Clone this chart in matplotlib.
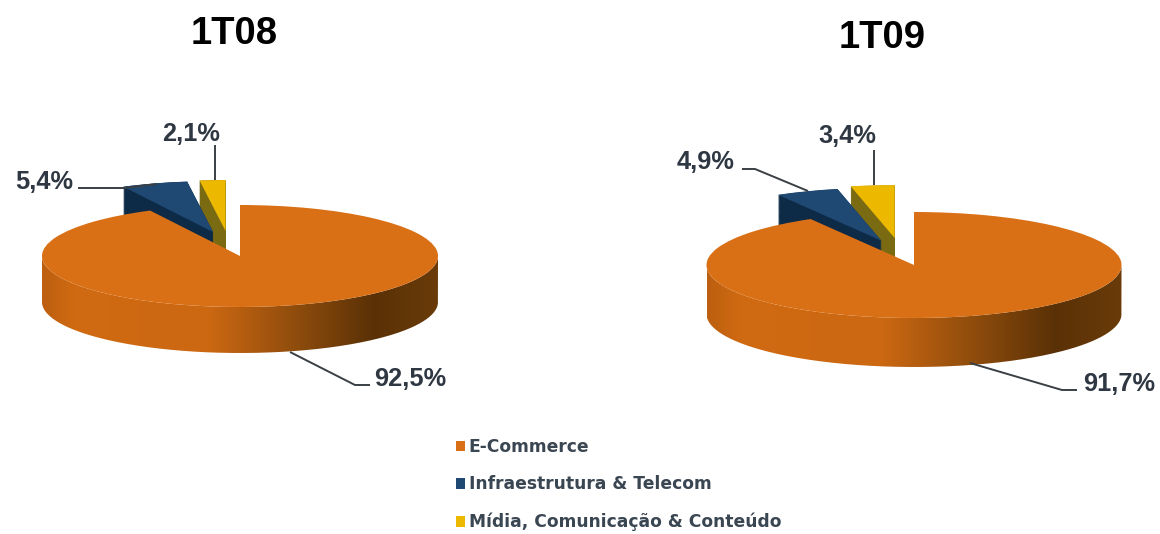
import numpy as np
import matplotlib
matplotlib.use("Agg")
import matplotlib.pyplot as plt
from matplotlib.colors import LinearSegmentedColormap
from matplotlib.patches import PathPatch
from matplotlib.path import Path

plt.rcParams['font.family'] = ['Liberation Sans', 'DejaVu Sans']

categories = ['E-Commerce', 'Infraestrutura & Telecom', 'Mídia, Comunicação & Conteúdo']
values_1t08 = [92.5, 5.4, 2.1]
values_1t09 = [91.7, 4.9, 3.4]

top_colors = ['#D97016', '#1F4873', '#EDB900']
side_colors = ['#A85510', '#0D2A47', '#7A6A12']
text_color = '#2E3742'

W, H = 1160, 534
fig = plt.figure(figsize=(W / 100, H / 100), dpi=100, facecolor='white')

side_cmap = LinearSegmentedColormap.from_list('side', [
    (0.0, '#BC5F10'), (0.08, '#D06A12'), (0.42, '#CC6812'),
    (0.66, '#8A4A0C'), (0.84, '#5A3106'), (1.0, '#6A3B09')])


def draw_pie(values, cx, cy, a, b, depth, explode, nudge):
    ax = fig.add_axes([0, 0, 1, 1])
    d = depth / b

    def pie_at(dy, colors):
        wedges, _ = ax.pie(values, colors=colors, startangle=90, counterclock=False,
                           explode=explode, center=(0, dy),
                           wedgeprops=dict(linewidth=0.4, edgecolor='none'))
        # the two small slices sit a bit further left than a radial explode
        for w, n in zip(wedges, nudge):
            w.set_center((w.center[0] + n / a, w.center[1]))
        return wedges

    # thickness of the pulled out slices: stack of dark copies
    for dy in np.arange(-d, 0, 0.01):
        wedges = pie_at(dy, side_colors)
        wedges[0].remove()
    wedges = pie_at(0, top_colors)
    wedges[0].set_zorder(4)
    wedges[1].set_zorder(2)
    wedges[2].set_zorder(2)

    # front wall of the big slice, shaded left to right
    t = np.linspace(np.pi, 2 * np.pi, 200)
    xs = np.r_[np.cos(t), np.cos(t[::-1])]
    ys = np.r_[np.sin(t), np.sin(t[::-1]) - d]
    wall = PathPatch(Path(np.c_[xs, ys]), transform=ax.transData, fc='none', ec='none')
    im = ax.imshow(np.linspace(0, 1, 256).reshape(1, -1), cmap=side_cmap, aspect='auto',
                   extent=(-1, 1, -3, 3), zorder=3)
    im.set_clip_path(wall)

    ax.set_aspect('auto')
    ax.set_xlim(-cx / a, (W - cx) / a)
    ax.set_ylim((cy - H) / b, cy / b)
    return wedges


wedges = draw_pie(values_1t08, 240, 256, 198, 51, 46, [0, 0.49, 0.49], [0, 2, -8])
draw_pie(values_1t09, 914, 265, 207.5, 53, 49, [0, 0.49, 0.51], [0, 4, -8])

# overlay in pixel coordinates for the text and leader lines
ov = fig.add_axes([0, 0, 1, 1])
ov.set_xlim(0, W)
ov.set_ylim(H, 0)
ov.axis('off')

ov.text(234, 34, '1T08', fontsize=27.5, fontweight='bold', color='black', ha='center', va='center')
ov.text(882, 38, '1T09', fontsize=27.5, fontweight='bold', color='black', ha='center', va='center')


def pct(v):
    return f'{v:.1f}%'.replace('.', ',')


labels = [
    (pct(values_1t08[2]), 191, 134),
    (pct(values_1t08[1]), 44, 182),
    (pct(values_1t08[0]), 410, 379),
    (pct(values_1t09[2]), 847, 136),
    (pct(values_1t09[1]), 706, 162),
    (pct(values_1t09[0]), 1119, 384),
]
for s, x, y in labels:
    ov.text(x, y, s, fontsize=18.3, fontweight='bold', color=text_color, ha='center', va='center')

leaders = [
    ([215, 215], [145, 180]),
    ([78, 125, 157], [188, 188, 184]),
    ([290, 355, 370], [352, 385, 385]),
    ([874, 874], [150, 185]),
    ([742, 755, 808], [169, 169, 191]),
    ([970, 1062, 1077], [363, 390, 390]),
]
for xs, ys in leaders:
    ov.plot(xs, ys, color='#3A3F44', lw=1.4, solid_capstyle='butt')

leg = ov.legend(wedges, categories, loc='upper left', bbox_to_anchor=(456 / W, 1 - 438 / H),
                frameon=False, labelspacing=1.14, handlelength=0.55,
                handleheight=0.55, handletextpad=0.2, borderpad=0, borderaxespad=0,
                prop=dict(family='DejaVu Sans', size=12.3, weight='bold'))
for txt in leg.get_texts():
    txt.set_color('#3A4652')

fig.savefig('out.png', dpi=100)
